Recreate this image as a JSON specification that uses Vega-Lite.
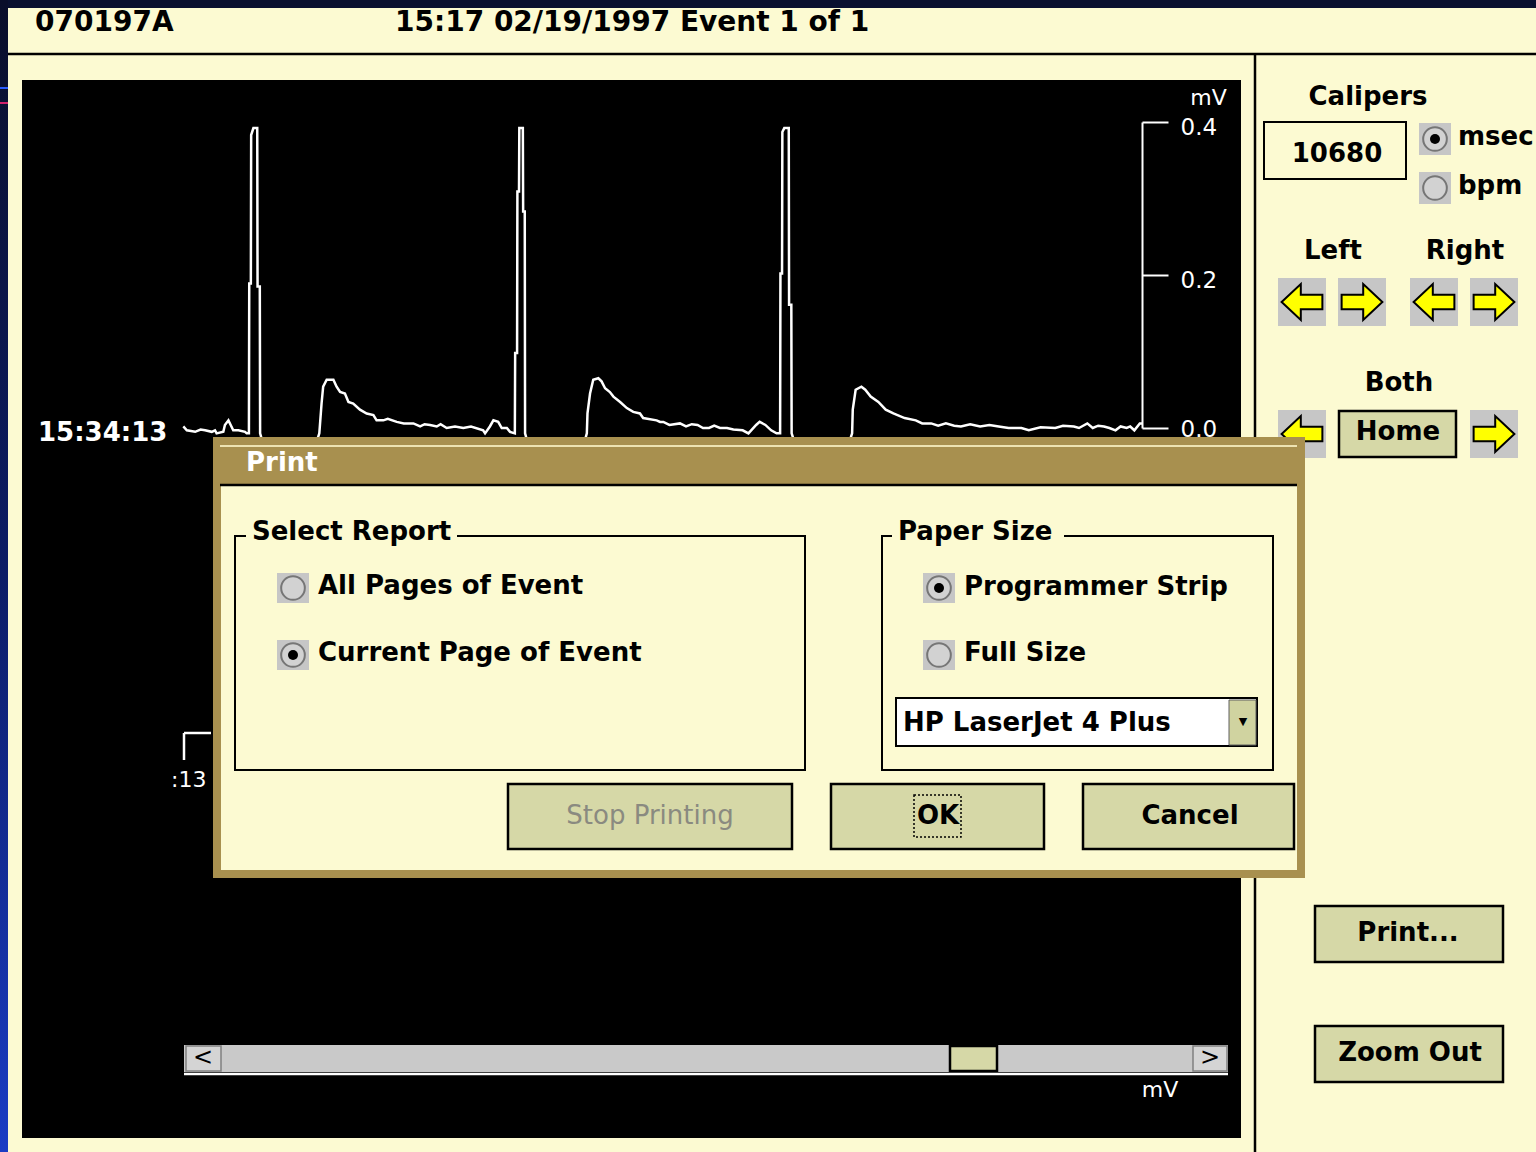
{
"$schema":"https://vega.github.io/schema/vega-lite/v6.json",
"width":1536,"height":1152,"padding":0,"autosize":{"type":"none"},
"background":"#0a1030",
"config":{"view":{"stroke":null},"text":{"font":"DejaVu Sans"}},
"datasets":{
"ecg":[{"t":1,"mv":0.002},{"t":12,"mv":-0.003},{"t":38,"mv":-0.005},{"t":55,"mv":-0.002},{"t":69,"mv":-0.003},{"t":90,"mv":-0.005},{"t":100,"mv":-0.003},{"t":105,"mv":-0.007},{"t":126,"mv":-0.005},{"t":131,"mv":0.004},{"t":142,"mv":0.010},{"t":149,"mv":0.004},{"t":157,"mv":-0.003},{"t":173,"mv":-0.003},{"t":194,"mv":-0.005},{"t":199,"mv":-0.007},{"t":206,"mv":-0.007},{"t":207,"mv":0.189},{"t":212,"mv":0.189},{"t":213,"mv":0.383},{"t":220,"mv":0.392},{"t":232,"mv":0.392},{"t":233,"mv":0.185},{"t":240,"mv":0.185},{"t":241,"mv":-0.007},{"t":247,"mv":-0.016},{"t":419,"mv":-0.016},{"t":426,"mv":-0.007},{"t":433,"mv":0.032},{"t":438,"mv":0.054},{"t":449,"mv":0.063},{"t":470,"mv":0.063},{"t":480,"mv":0.054},{"t":491,"mv":0.047},{"t":506,"mv":0.045},{"t":517,"mv":0.034},{"t":532,"mv":0.032},{"t":553,"mv":0.024},{"t":574,"mv":0.019},{"t":595,"mv":0.017},{"t":605,"mv":0.010},{"t":626,"mv":0.010},{"t":640,"mv":0.012},{"t":668,"mv":0.008},{"t":690,"mv":0.006},{"t":720,"mv":0.006},{"t":741,"mv":0.002},{"t":755,"mv":0.005},{"t":772,"mv":0.004},{"t":793,"mv":0.002},{"t":805,"mv":0.005},{"t":824,"mv":0.000},{"t":850,"mv":0.002},{"t":876,"mv":0.000},{"t":900,"mv":0.002},{"t":938,"mv":-0.003},{"t":944,"mv":-0.007},{"t":959,"mv":0.002},{"t":970,"mv":0.010},{"t":985,"mv":0.008},{"t":996,"mv":0.000},{"t":1012,"mv":0.000},{"t":1022,"mv":-0.005},{"t":1037,"mv":-0.007},{"t":1038,"mv":0.098},{"t":1044,"mv":0.098},{"t":1045,"mv":0.309},{"t":1050,"mv":0.309},{"t":1051,"mv":0.392},{"t":1062,"mv":0.392},{"t":1063,"mv":0.283},{"t":1068,"mv":0.283},{"t":1069,"mv":-0.007},{"t":1075,"mv":-0.016},{"t":1256,"mv":-0.016},{"t":1262,"mv":-0.007},{"t":1264,"mv":0.019},{"t":1272,"mv":0.045},{"t":1282,"mv":0.063},{"t":1298,"mv":0.065},{"t":1308,"mv":0.061},{"t":1319,"mv":0.052},{"t":1334,"mv":0.047},{"t":1345,"mv":0.041},{"t":1366,"mv":0.034},{"t":1387,"mv":0.026},{"t":1407,"mv":0.021},{"t":1428,"mv":0.019},{"t":1438,"mv":0.013},{"t":1480,"mv":0.010},{"t":1491,"mv":0.008},{"t":1501,"mv":0.008},{"t":1520,"mv":0.004},{"t":1553,"mv":0.006},{"t":1572,"mv":0.002},{"t":1590,"mv":0.005},{"t":1608,"mv":0.004},{"t":1625,"mv":0.000},{"t":1644,"mv":0.000},{"t":1660,"mv":0.003},{"t":1678,"mv":0.000},{"t":1700,"mv":0.000},{"t":1720,"mv":-0.002},{"t":1749,"mv":-0.003},{"t":1767,"mv":-0.007},{"t":1791,"mv":0.004},{"t":1802,"mv":0.008},{"t":1820,"mv":0.004},{"t":1838,"mv":-0.003},{"t":1855,"mv":-0.007},{"t":1866,"mv":-0.007},{"t":1867,"mv":0.202},{"t":1872,"mv":0.202},{"t":1873,"mv":0.387},{"t":1879,"mv":0.392},{"t":1893,"mv":0.392},{"t":1894,"mv":0.161},{"t":1901,"mv":0.161},{"t":1902,"mv":-0.007},{"t":1909,"mv":-0.016},{"t":2084,"mv":-0.016},{"t":2091,"mv":-0.007},{"t":2093,"mv":0.024},{"t":2102,"mv":0.050},{"t":2120,"mv":0.054},{"t":2132,"mv":0.050},{"t":2149,"mv":0.041},{"t":2173,"mv":0.034},{"t":2196,"mv":0.024},{"t":2220,"mv":0.019},{"t":2255,"mv":0.013},{"t":2290,"mv":0.010},{"t":2310,"mv":0.006},{"t":2338,"mv":0.006},{"t":2360,"mv":0.003},{"t":2384,"mv":0.006},{"t":2410,"mv":0.003},{"t":2431,"mv":0.002},{"t":2460,"mv":0.005},{"t":2491,"mv":0.002},{"t":2520,"mv":0.004},{"t":2549,"mv":0.002},{"t":2580,"mv":0.000},{"t":2620,"mv":0.000},{"t":2643,"mv":-0.003},{"t":2680,"mv":0.001},{"t":2726,"mv":0.000},{"t":2750,"mv":0.003},{"t":2784,"mv":0.002},{"t":2800,"mv":0.000},{"t":2826,"mv":0.006},{"t":2843,"mv":0.000},{"t":2860,"mv":0.003},{"t":2878,"mv":0.002},{"t":2895,"mv":0.000},{"t":2914,"mv":-0.003},{"t":2930,"mv":0.002},{"t":2949,"mv":0.000},{"t":2960,"mv":0.002},{"t":2973,"mv":-0.003},{"t":2990,"mv":0.006},{"t":2998,"mv":0.006}],
"minor":[{"mv":0.05},{"mv":0.1},{"mv":0.15},{"mv":0.25},{"mv":0.3},{"mv":0.35}],
"rects":[
{"role":"edge","x":0,"x2":8,"y":0,"y2":1152},
{"role":"page","x":8,"x2":1536,"y":8,"y2":1152},
{"role":"panel","x":22,"x2":1241,"y":80,"y2":1138},
{"role":"grey","x":1419,"x2":1451,"y":123,"y2":155},
{"role":"grey","x":1419,"x2":1451,"y":172,"y2":204},
{"role":"grey","x":1278,"x2":1326,"y":278,"y2":326},
{"role":"grey","x":1338,"x2":1386,"y":278,"y2":326},
{"role":"grey","x":1410,"x2":1458,"y":278,"y2":326},
{"role":"grey","x":1470,"x2":1518,"y":278,"y2":326},
{"role":"grey","x":1278,"x2":1326,"y":410,"y2":458},
{"role":"grey","x":1470,"x2":1518,"y":410,"y2":458},
{"role":"track","x":184,"x2":1228,"y":1045,"y2":1072},
{"role":"scrollBtn","x":186,"x2":221,"y":1046,"y2":1071},
{"role":"scrollBtn","x":1193,"x2":1227,"y":1046,"y2":1071},
{"role":"button","x":950,"x2":997,"y":1046,"y2":1071},
{"role":"button","x":1339,"x2":1456,"y":411,"y2":457},
{"role":"button","x":1315,"x2":1503,"y":906,"y2":962},
{"role":"button","x":1315,"x2":1503,"y":1026,"y2":1082},
{"role":"box","x":1264,"x2":1406,"y":122,"y2":179},
{"role":"frame","x":213,"x2":1305,"y":437,"y2":878},
{"role":"dlgBody","x":221,"x2":1297,"y":486,"y2":870},
{"role":"groupBox","x":235,"x2":805,"y":536,"y2":770},
{"role":"groupBox","x":882,"x2":1273,"y":536,"y2":770},
{"role":"labelBg","x":246,"x2":457,"y":518,"y2":548},
{"role":"labelBg","x":892,"x2":1064,"y":518,"y2":548},
{"role":"dropdown","x":896,"x2":1257,"y":698,"y2":746},
{"role":"dlgGrey","x":277,"x2":309,"y":573,"y2":603},
{"role":"dlgGrey","x":277,"x2":309,"y":640,"y2":670},
{"role":"dlgGrey","x":923,"x2":955,"y":573,"y2":603},
{"role":"dlgGrey","x":923,"x2":955,"y":640,"y2":670},
{"role":"dlgButton","x":508,"x2":792,"y":784,"y2":849},
{"role":"dlgButton","x":831,"x2":1044,"y":784,"y2":849},
{"role":"dlgButton","x":1083,"x2":1294,"y":784,"y2":849},
{"role":"ddBtn","x":1229,"x2":1256,"y":700,"y2":745},
{"role":"focus","x":914,"x2":961,"y":795,"y2":837}
],
"rules":[
{"role":"black","x":8,"x2":1536,"y":54,"y2":54},
{"role":"black","x":1255,"x2":1255,"y":54,"y2":1152},
{"role":"white","x":184,"x2":184,"y":733,"y2":760},
{"role":"white","x":184,"x2":211,"y":733,"y2":733},
{"role":"white","x":184,"x2":1228,"y":1074,"y2":1074},
{"role":"blue","x":0,"x2":8,"y":88,"y2":88},
{"role":"magenta","x":0,"x2":8,"y":103,"y2":103},
{"role":"cream","x":220,"x2":1297,"y":446,"y2":446},
{"role":"dlgBlack","x":220,"x2":1297,"y":485,"y2":485}
],
"radios":[
{"panel":"right","x":1435,"y":139,"on":true},
{"panel":"right","x":1435,"y":188,"on":false},
{"panel":"dialog","x":293,"y":588,"on":false},
{"panel":"dialog","x":293,"y":655,"on":true},
{"panel":"dialog","x":939,"y":588,"on":true},
{"panel":"dialog","x":939,"y":655,"on":false}
],
"arrows":[
{"dir":"L","x":1302,"y":302},{"dir":"R","x":1362,"y":302},{"dir":"L","x":1434,"y":302},{"dir":"R","x":1494,"y":302},{"dir":"L","x":1302,"y":434},{"dir":"R","x":1494,"y":434}
],
"texts":[
{"set":"header","text":"070197A","x":35,"y":23},
{"set":"header","text":"15:17 02/19/1997 Event 1 of 1","x":395,"y":23},
{"set":"panelC","text":"Calipers","x":1368,"y":97},
{"set":"panelC","text":"10680","x":1337,"y":154},
{"set":"panelL","text":"msec","x":1458,"y":137},
{"set":"panelL","text":"bpm","x":1458,"y":186},
{"set":"panelC","text":"Left","x":1333,"y":251},
{"set":"panelC","text":"Right","x":1465,"y":251},
{"set":"panelC","text":"Both","x":1399,"y":383},
{"set":"panelC","text":"Home","x":1398,"y":432},
{"set":"panelC","text":"Print...","x":1408,"y":933},
{"set":"panelC","text":"Zoom Out","x":1410,"y":1053},
{"set":"whiteBold","text":"15:34:13","x":38,"y":433},
{"set":"whiteThin","text":":13","x":171,"y":780},
{"set":"whiteMid","text":"mV","x":1160,"y":1090},
{"set":"scroll","text":"<","x":203,"y":1058},
{"set":"scroll","text":">","x":1210,"y":1058},
{"set":"dlgTitle","text":"Print","x":246,"y":463},
{"set":"dlgL","text":"Select Report","x":252,"y":532},
{"set":"dlgL","text":"All Pages of Event","x":318,"y":586},
{"set":"dlgL","text":"Current Page of Event","x":318,"y":653},
{"set":"dlgL","text":"Paper Size","x":898,"y":532},
{"set":"dlgL","text":"Programmer Strip","x":964,"y":587},
{"set":"dlgL","text":"Full Size","x":964,"y":653},
{"set":"dlgL","text":"HP LaserJet 4 Plus","x":903,"y":723},
{"set":"dlgC","text":"OK","x":938,"y":816},
{"set":"dlgC","text":"Cancel","x":1190,"y":816},
{"set":"disabled","text":"Stop Printing","x":650,"y":816},
{"set":"glyph","text":"▼","x":1243,"y":722}
]
},
"layer":[
{
"encoding":{"x":{"field":"x","type":"quantitative","scale":{"domain":[0,1536],"range":[0,1536],"nice":false,"zero":false},"axis":null},"y":{"field":"y","type":"quantitative","scale":{"domain":[0,1152],"range":[0,1152],"nice":false,"zero":false},"axis":null}},
"layer":[
{"data":{"name":"rects"},"transform":[{"filter":"datum.role=='edge'"}],"mark":{"type":"rect","fill":{"gradient":"linear","x1":0,"y1":0,"x2":0,"y2":1,"stops":[{"offset":0,"color":"#0a0e2a"},{"offset":0.5,"color":"#0c1c66"},{"offset":1,"color":"#1a3cc4"}]}},"encoding":{"x2":{"field":"x2"},"y2":{"field":"y2"}}},
{"data":{"name":"rects"},"transform":[{"filter":"datum.role=='page'"}],"mark":{"type":"rect","fill":"#FCFAD2"},"encoding":{"x2":{"field":"x2"},"y2":{"field":"y2"}}},
{"data":{"name":"rects"},"transform":[{"filter":"datum.role=='panel'"}],"mark":{"type":"rect","fill":"#000000"},"encoding":{"x2":{"field":"x2"},"y2":{"field":"y2"}}},
{"data":{"name":"rects"},"transform":[{"filter":"datum.role=='grey'"}],"mark":{"type":"rect","fill":"#C6C6C6"},"encoding":{"x2":{"field":"x2"},"y2":{"field":"y2"}}},
{"data":{"name":"rects"},"transform":[{"filter":"datum.role=='track'"}],"mark":{"type":"rect","fill":"#C9C9C9"},"encoding":{"x2":{"field":"x2"},"y2":{"field":"y2"}}},
{"data":{"name":"rects"},"transform":[{"filter":"datum.role=='scrollBtn'"}],"mark":{"type":"rect","fill":"#D4D4D4","stroke":"#808080","strokeWidth":1.5},"encoding":{"x2":{"field":"x2"},"y2":{"field":"y2"}}},
{"data":{"name":"rects"},"transform":[{"filter":"datum.role=='button'"}],"mark":{"type":"rect","fill":"#D6D8A7","stroke":"#000000","strokeWidth":2.5},"encoding":{"x2":{"field":"x2"},"y2":{"field":"y2"}}},
{"data":{"name":"rects"},"transform":[{"filter":"datum.role=='box'"}],"mark":{"type":"rect","fill":"#FCFAD2","stroke":"#000000","strokeWidth":2},"encoding":{"x2":{"field":"x2"},"y2":{"field":"y2"}}},
{"data":{"name":"rules"},"transform":[{"filter":"datum.role=='black'"}],"mark":{"type":"rule","stroke":"#000000","strokeWidth":2.5},"encoding":{"x2":{"field":"x2"},"y2":{"field":"y2"}}},
{"data":{"name":"rules"},"transform":[{"filter":"datum.role=='white'"}],"mark":{"type":"rule","stroke":"#FFFFFF","strokeWidth":2.5},"encoding":{"x2":{"field":"x2"},"y2":{"field":"y2"}}},
{"data":{"name":"rules"},"transform":[{"filter":"datum.role=='blue' || datum.role=='magenta'"}],"mark":{"type":"rule","strokeWidth":2},"encoding":{"x2":{"field":"x2"},"y2":{"field":"y2"},"color":{"field":"role","type":"nominal","scale":{"domain":["blue","magenta"],"range":["#2a5cff","#d0206a"]},"legend":null}}},
{"data":{"name":"radios"},"transform":[{"filter":"datum.panel=='right'"}],"mark":{"type":"point","shape":"circle","fill":"#D2D2D2","stroke":"#767676","strokeWidth":2,"size":560,"opacity":1}},
{"data":{"name":"radios"},"transform":[{"filter":"datum.panel=='right' && datum.on"}],"mark":{"type":"point","shape":"circle","filled":true,"color":"#000000","size":100,"opacity":1}},
{"data":{"name":"arrows"},"mark":{"type":"point","fill":"#FFFF00","stroke":"#000000","strokeWidth":2,"size":2300,"opacity":1},"encoding":{"shape":{"field":"dir","type":"nominal","scale":{"domain":["L","R"],"range":["M0.85,-0.3L-0.05,-0.3L-0.05,-0.75L-0.85,0L-0.05,0.75L-0.05,0.3L0.85,0.3Z","M-0.85,-0.3L0.05,-0.3L0.05,-0.75L0.85,0L0.05,0.75L0.05,0.3L-0.85,0.3Z"]},"legend":null}}},
{"data":{"name":"texts"},"transform":[{"filter":"datum.set=='header'"}],"mark":{"type":"text","align":"left","baseline":"middle","font":"DejaVu Sans","fontWeight":"bold","fontSize":28,"color":"#000000"},"encoding":{"text":{"field":"text"}}},
{"data":{"name":"texts"},"transform":[{"filter":"datum.set=='panelC'"}],"mark":{"type":"text","align":"center","baseline":"middle","font":"DejaVu Sans","fontWeight":"bold","fontSize":26,"color":"#000000"},"encoding":{"text":{"field":"text"}}},
{"data":{"name":"texts"},"transform":[{"filter":"datum.set=='panelL'"}],"mark":{"type":"text","align":"left","baseline":"middle","font":"DejaVu Sans","fontWeight":"bold","fontSize":26,"color":"#000000"},"encoding":{"text":{"field":"text"}}},
{"data":{"name":"texts"},"transform":[{"filter":"datum.set=='whiteBold'"}],"mark":{"type":"text","align":"left","baseline":"middle","font":"DejaVu Sans","fontWeight":"bold","fontSize":26,"color":"#FFFFFF"},"encoding":{"text":{"field":"text"}}},
{"data":{"name":"texts"},"transform":[{"filter":"datum.set=='whiteThin'"}],"mark":{"type":"text","align":"left","baseline":"middle","font":"DejaVu Sans","fontSize":22,"color":"#FFFFFF"},"encoding":{"text":{"field":"text"}}},
{"data":{"name":"texts"},"transform":[{"filter":"datum.set=='whiteMid'"}],"mark":{"type":"text","align":"center","baseline":"middle","font":"DejaVu Sans","fontSize":22,"color":"#FFFFFF"},"encoding":{"text":{"field":"text"}}},
{"data":{"name":"texts"},"transform":[{"filter":"datum.set=='scroll'"}],"mark":{"type":"text","align":"center","baseline":"middle","font":"DejaVu Sans","fontSize":24,"color":"#000000"},"encoding":{"text":{"field":"text"}}}
]
},
{
"encoding":{"x":{"field":"t","type":"quantitative","scale":{"domain":[0,3000],"range":[183,1143],"nice":false,"zero":false},"axis":null},"y":{"field":"mv","type":"quantitative","scale":{"domain":[0,0.4],"range":[428,122],"nice":false,"zero":false},"axis":{"orient":"right","offset":-394,"zindex":1,"values":[0,0.2,0.4],"format":".1f","grid":false,"domain":true,"domainColor":"#FFFFFF","domainWidth":2,"ticks":true,"tickColor":"#FFFFFF","tickWidth":2,"tickSize":26,"labelColor":"#FFFFFF","labelFont":"DejaVu Sans","labelFontSize":23,"labelPadding":12,"labelOffset":{"condition":{"test":"datum.value == 0","value":1},"value":5},"labelFlush":false,"labelOverlap":false,"labelBaseline":"middle","title":"mV","titleColor":"#FFFFFF","titleFont":"DejaVu Sans","titleFontSize":22,"titleFontWeight":"normal","titleAngle":0,"titleX":66,"titleY":97,"titleAlign":"center","titleBaseline":"middle"}}},
"layer":[
{"data":{"name":"ecg"},"mark":{"type":"line","color":"#FFFFFF","strokeWidth":2.5,"strokeJoin":"miter"}},
{"data":{"name":"minor"},"mark":{"type":"rule","color":"#FFFFFF","strokeWidth":2},"encoding":{"x":{"datum":2997},"x2":{"datum":3044}}}
]
},
{
"encoding":{"x":{"field":"x","type":"quantitative","scale":{"domain":[0,1536],"range":[0,1536],"nice":false,"zero":false},"axis":null},"y":{"field":"y","type":"quantitative","scale":{"domain":[0,1152],"range":[0,1152],"nice":false,"zero":false},"axis":null}},
"layer":[
{"data":{"name":"rects"},"transform":[{"filter":"datum.role=='frame'"}],"mark":{"type":"rect","fill":"#A8904F"},"encoding":{"x2":{"field":"x2"},"y2":{"field":"y2"}}},
{"data":{"name":"rects"},"transform":[{"filter":"datum.role=='dlgBody'"}],"mark":{"type":"rect","fill":"#FCFAD2"},"encoding":{"x2":{"field":"x2"},"y2":{"field":"y2"}}},
{"data":{"name":"rules"},"transform":[{"filter":"datum.role=='cream'"}],"mark":{"type":"rule","stroke":"#EDE3B2","strokeWidth":2},"encoding":{"x2":{"field":"x2"},"y2":{"field":"y2"}}},
{"data":{"name":"rules"},"transform":[{"filter":"datum.role=='dlgBlack'"}],"mark":{"type":"rule","stroke":"#000000","strokeWidth":2.5},"encoding":{"x2":{"field":"x2"},"y2":{"field":"y2"}}},
{"data":{"name":"rects"},"transform":[{"filter":"datum.role=='groupBox'"}],"mark":{"type":"rect","fill":"transparent","stroke":"#000000","strokeWidth":2},"encoding":{"x2":{"field":"x2"},"y2":{"field":"y2"}}},
{"data":{"name":"rects"},"transform":[{"filter":"datum.role=='labelBg'"}],"mark":{"type":"rect","fill":"#FCFAD2"},"encoding":{"x2":{"field":"x2"},"y2":{"field":"y2"}}},
{"data":{"name":"rects"},"transform":[{"filter":"datum.role=='dropdown'"}],"mark":{"type":"rect","fill":"#FFFFFF","stroke":"#000000","strokeWidth":2},"encoding":{"x2":{"field":"x2"},"y2":{"field":"y2"}}},
{"data":{"name":"rects"},"transform":[{"filter":"datum.role=='dlgGrey'"}],"mark":{"type":"rect","fill":"#C6C6C6"},"encoding":{"x2":{"field":"x2"},"y2":{"field":"y2"}}},
{"data":{"name":"rects"},"transform":[{"filter":"datum.role=='dlgButton'"}],"mark":{"type":"rect","fill":"#D6D8A7","stroke":"#000000","strokeWidth":2.5},"encoding":{"x2":{"field":"x2"},"y2":{"field":"y2"}}},
{"data":{"name":"rects"},"transform":[{"filter":"datum.role=='ddBtn'"}],"mark":{"type":"rect","fill":"#D0D3A0","stroke":"#606060","strokeWidth":1},"encoding":{"x2":{"field":"x2"},"y2":{"field":"y2"}}},
{"data":{"name":"rects"},"transform":[{"filter":"datum.role=='focus'"}],"mark":{"type":"rect","fill":"transparent","stroke":"#000000","strokeWidth":1.5,"strokeDash":[2,2]},"encoding":{"x2":{"field":"x2"},"y2":{"field":"y2"}}},
{"data":{"name":"radios"},"transform":[{"filter":"datum.panel=='dialog'"}],"mark":{"type":"point","shape":"circle","fill":"#D2D2D2","stroke":"#767676","strokeWidth":2,"size":560,"opacity":1}},
{"data":{"name":"radios"},"transform":[{"filter":"datum.panel=='dialog' && datum.on"}],"mark":{"type":"point","shape":"circle","filled":true,"color":"#000000","size":100,"opacity":1}},
{"data":{"name":"texts"},"transform":[{"filter":"datum.set=='dlgTitle'"}],"mark":{"type":"text","align":"left","baseline":"middle","font":"DejaVu Sans","fontWeight":"bold","fontSize":26,"color":"#FFFFFF"},"encoding":{"text":{"field":"text"}}},
{"data":{"name":"texts"},"transform":[{"filter":"datum.set=='dlgL'"}],"mark":{"type":"text","align":"left","baseline":"middle","font":"DejaVu Sans","fontWeight":"bold","fontSize":26,"color":"#000000"},"encoding":{"text":{"field":"text"}}},
{"data":{"name":"texts"},"transform":[{"filter":"datum.set=='dlgC'"}],"mark":{"type":"text","align":"center","baseline":"middle","font":"DejaVu Sans","fontWeight":"bold","fontSize":26,"color":"#000000"},"encoding":{"text":{"field":"text"}}},
{"data":{"name":"texts"},"transform":[{"filter":"datum.set=='disabled'"}],"mark":{"type":"text","align":"center","baseline":"middle","font":"DejaVu Sans","fontSize":26,"color":"#8A8A80"},"encoding":{"text":{"field":"text"}}},
{"data":{"name":"texts"},"transform":[{"filter":"datum.set=='glyph'"}],"mark":{"type":"text","align":"center","baseline":"middle","font":"DejaVu Sans","fontSize":11,"color":"#000000"},"encoding":{"text":{"field":"text"}}}
]
}
],
"resolve":{"scale":{"x":"independent","y":"independent"}}
}
